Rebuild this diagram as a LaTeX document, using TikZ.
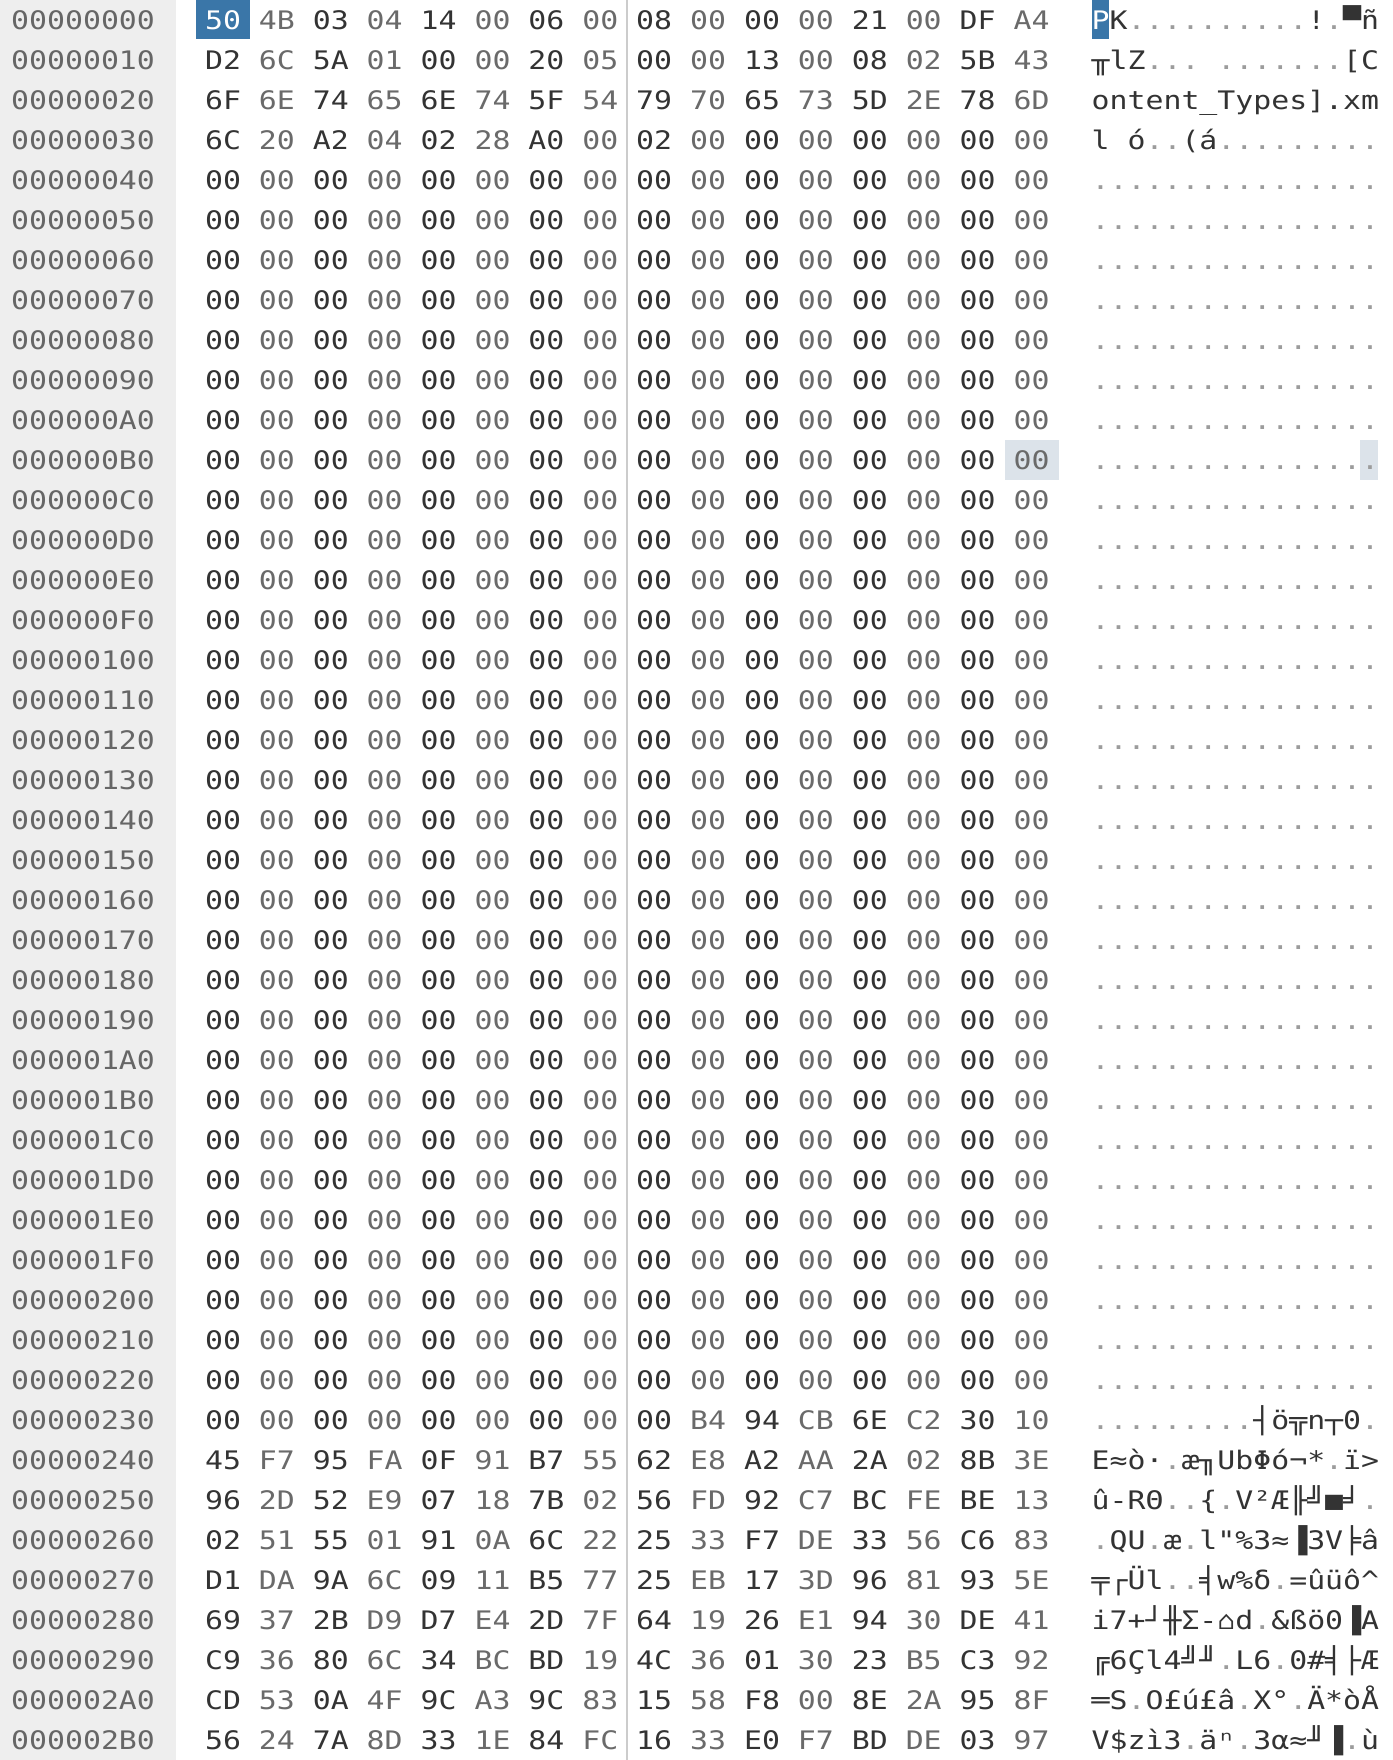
\documentclass[tikz,border=0pt]{standalone}
\usepackage{fontspec}
\newfontfamily\hexfont[FakeStretch=1.17]{DejaVu Sans Mono}
\definecolor{hexdark}{HTML}{333333}
\definecolor{hexlight}{HTML}{6A6A6A}
\definecolor{addrgray}{HTML}{666666}
\definecolor{addrbg}{HTML}{EEEEEE}
\definecolor{dotgray}{HTML}{9C9C9C}
\definecolor{selblue}{HTML}{3A76A8}
\definecolor{markbg}{HTML}{DCE3EA}
\definecolor{sepgray}{HTML}{CCCCCC}
\newcommand\hexsize{\fontsize{25.5pt}{30pt}\selectfont}
\newcommand\dt{\textcolor{dotgray}{.}}
\newcommand\hexrow[2]{%
  \foreach \b [count=\c from 0] in {#2} {%
    \ifodd\c\def\tc{hexlight}\else\def\tc{hexdark}\fi
    \ifnum#1=0 \ifnum\c=0 \def\tc{white}\fi\fi
    \node[hexbyte, text=\tc] (h-#1-\c) at ({223+53.9*\c}, {29.3+40*#1}) {\b};
  }}

\begin{document}
\begin{tikzpicture}[x=1pt, y=-1pt,
    hexbyte/.style={anchor=base, inner sep=0pt, font=\hexfont\hexsize},
    addr/.style={anchor=base west, inner sep=0pt, text=addrgray, font=\hexfont\hexsize},
    asciirow/.style={anchor=base west, inner sep=0pt, text=hexdark, font=\hexfont\hexsize}]
  \useasboundingbox (0,0) rectangle (1392,1760);
  \fill[white] (0,0) rectangle (1392,1760);

  % Offset column
  \fill[addrbg] (0,0) rectangle (176,1760);
  \foreach \r in {0,...,43} {
    \pgfmathparse{Hex(\r)}\let\rh\pgfmathresult
    \ifnum\r<16 \def\ad{000000\rh0}\else\def\ad{00000\rh0}\fi
    \node[addr] (a-\r) at (11, {29.3+40*\r}) {\ad};
  }

  % Cursor and selection marks
  \fill[selblue] (196,0) rectangle (250,39.3);
  \fill[selblue] (1091.5,0) rectangle (1109.4,39.3);
  \fill[markbg] (1004.5,440) rectangle (1058.5,480);
  \fill[markbg] (1360,440) rectangle (1378,480);

  % Separator between the two halves
  \draw[sepgray, line width=1.5pt] (627,0) -- (627,1760);

  % Hex bytes
  \hexrow{0}{50,4B,03,04,14,00,06,00,08,00,00,00,21,00,DF,A4}
  \hexrow{1}{D2,6C,5A,01,00,00,20,05,00,00,13,00,08,02,5B,43}
  \hexrow{2}{6F,6E,74,65,6E,74,5F,54,79,70,65,73,5D,2E,78,6D}
  \hexrow{3}{6C,20,A2,04,02,28,A0,00,02,00,00,00,00,00,00,00}
  \foreach \r in {4,...,34} {
    \hexrow{\r}{00,00,00,00,00,00,00,00,00,00,00,00,00,00,00,00}
  }
  \hexrow{35}{00,00,00,00,00,00,00,00,00,B4,94,CB,6E,C2,30,10}
  \hexrow{36}{45,F7,95,FA,0F,91,B7,55,62,E8,A2,AA,2A,02,8B,3E}
  \hexrow{37}{96,2D,52,E9,07,18,7B,02,56,FD,92,C7,BC,FE,BE,13}
  \hexrow{38}{02,51,55,01,91,0A,6C,22,25,33,F7,DE,33,56,C6,83}
  \hexrow{39}{D1,DA,9A,6C,09,11,B5,77,25,EB,17,3D,96,81,93,5E}
  \hexrow{40}{69,37,2B,D9,D7,E4,2D,7F,64,19,26,E1,94,30,DE,41}
  \hexrow{41}{C9,36,80,6C,34,BC,BD,19,4C,36,01,30,23,B5,C3,92}
  \hexrow{42}{CD,53,0A,4F,9C,A3,9C,83,15,58,F8,00,8E,2A,95,8F}
  \hexrow{43}{56,24,7A,8D,33,1E,84,FC,16,33,E0,F7,BD,DE,03,97}

  % Text column
  \node[asciirow] (t-0) at (1091.5, 29.3) {\textcolor{white}{P}K\dt\dt\dt\dt\dt\dt\dt\dt\dt\dt!\dt{}▀ñ};
  \node[asciirow] (t-1) at (1091.5, 69.3) {╥lZ\dt\dt\dt~\dt\dt\dt\dt\dt\dt\dt[C};
  \node[asciirow] (t-2) at (1091.5, 109.3) {ontent\_Types].xm};
  \node[asciirow] (t-3) at (1091.5, 149.3) {l~ó\dt\dt(á\dt\dt\dt\dt\dt\dt\dt\dt\dt};
  \foreach \r in {4,...,34} {
    \node[asciirow] (t-\r) at (1091.5, {29.3+40*\r}) {\dt\dt\dt\dt\dt\dt\dt\dt\dt\dt\dt\dt\dt\dt\dt\dt};
  }
  \node[asciirow] (t-35) at (1091.5, 1429.3) {\dt\dt\dt\dt\dt\dt\dt\dt\dt{}┤ö╦n┬0\dt};
  \node[asciirow] (t-36) at (1091.5, 1469.3) {E≈ò·\dt{}æ╖UbΦó¬*\dt{}ï>};
  \node[asciirow] (t-37) at (1091.5, 1509.3) {û-RΘ\dt\dt\{\dt{}V²Æ╟╝■╛\dt};
  \node[asciirow] (t-38) at (1091.5, 1549.3) {\dt{}QU\dt{}æ\dt{}l"\%3≈▐3V╞â};
  \node[asciirow] (t-39) at (1091.5, 1589.3) {╤┌Ül\dt\dt{}╡w\%δ\dt{}=ûüô\char"5E};
  \node[asciirow] (t-40) at (1091.5, 1629.3) {i7+┘╫Σ-⌂d\dt{}\&ßö0▐A};
  \node[asciirow] (t-41) at (1091.5, 1669.3) {╔6Çl4╝╜\dt{}L6\dt{}0\#╡├Æ};
  \node[asciirow] (t-42) at (1091.5, 1709.3) {═S\dt{}O£ú£â\dt{}X°\dt{}Ä*òÅ};
  \node[asciirow] (t-43) at (1091.5, 1749.3) {V\$zì3\dt{}äⁿ\dt{}3α≈╜▐\dt{}ù};
\end{tikzpicture}
\end{document}
